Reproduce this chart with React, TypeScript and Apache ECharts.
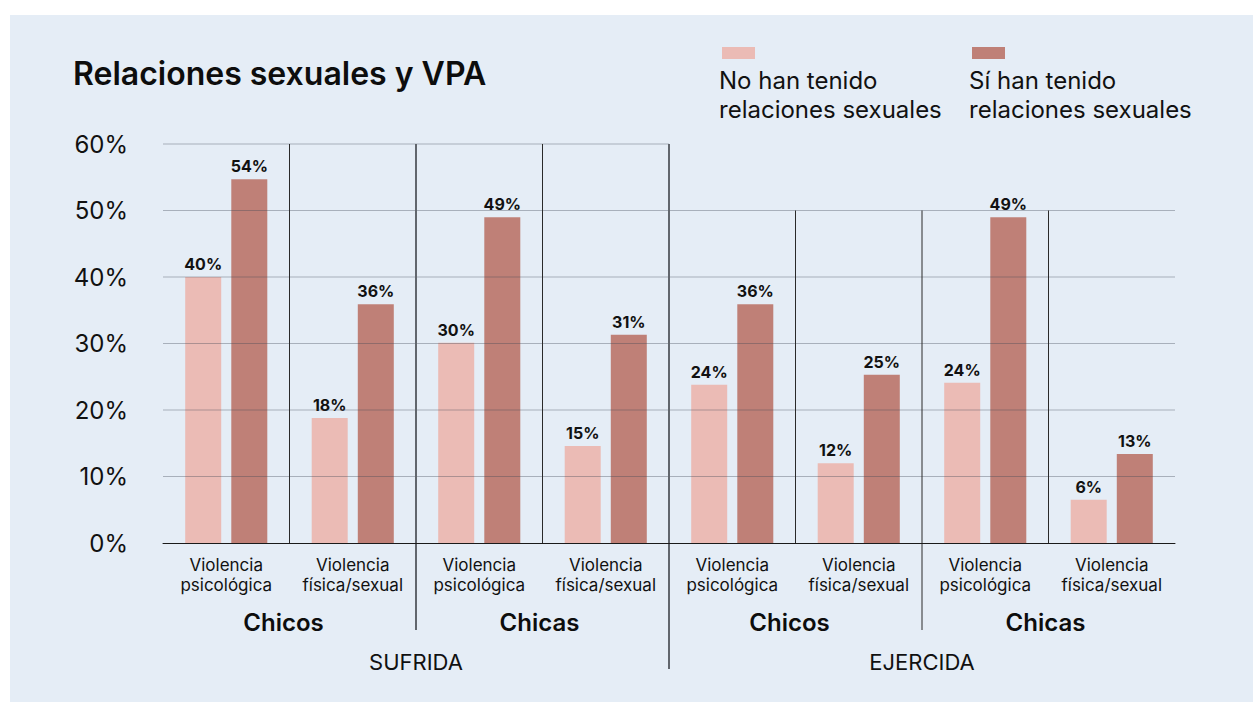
import React, { useEffect, useRef } from "react";
import * as echarts from "echarts";

// ---- data ----
const categories = [
  "Violencia\npsicológica",
  "Violencia\nfísica/sexual",
  "Violencia\npsicológica",
  "Violencia\nfísica/sexual",
  "Violencia\npsicológica",
  "Violencia\nfísica/sexual",
  "Violencia\npsicológica",
  "Violencia\nfísica/sexual",
];
const sexGroups = ["Chicos", "Chicas", "Chicos", "Chicas"];
const violenceTypes = ["SUFRIDA", "EJERCIDA"];
const seriesNames = [
  "No han tenido\nrelaciones sexuales",
  "Sí han tenido\nrelaciones sexuales",
];
// bar heights
const noValues = [40.0, 18.8, 30.1, 14.6, 23.8, 12.0, 24.1, 6.5];
const siValues = [54.7, 35.9, 49.0, 31.3, 35.9, 25.3, 49.0, 13.4];
// printed labels
const noLabels = [40, 18, 30, 15, 24, 12, 24, 6];
const siLabels = [54, 36, 49, 31, 36, 25, 49, 13];
const yTicks = [0, 10, 20, 30, 40, 50, 60];

const FONT = "Inter, 'Noto Sans', sans-serif";
const LIGHT = "#ebbbb5";
const DARK = "#bf8077";
const W = 1253;
const H = 702;
const GRID = { left: 163, right: 78, top: 144, bottom: 159 };

export default function App() {
  const ref = useRef<HTMLDivElement>(null);

  useEffect(() => {
    if (!ref.current) return;
    const chart = echarts.init(ref.current, null, { renderer: "svg" });

    const n = categories.length;
    const half = n / 2;
    const yMax = yTicks[yTicks.length - 1];
    const yStep = yTicks[1] - yTicks[0];

    // horizontal gridlines: [x0, x1, y]
    const gridLines = yTicks
      .filter((v) => v > 0)
      .map((v) => [0, v === yMax ? half : n, v]);

    // vertical dividers: [x, topValue, kind]  kind 0=sub, 1=sex group, 2=violence type
    const dividers: number[][] = [];
    for (let i = 1; i < n; i++) {
      const top = i <= half ? yMax : yMax - yStep;
      const kind = i === half ? 2 : i % 2 === 0 ? 1 : 0;
      dividers.push([i, top, kind]);
    }

    const plotW = W - GRID.left - GRID.right;
    const catW = plotW / n;

    const graphics: any[] = [
      {
        type: "text",
        left: 73,
        top: 57,
        style: {
          text: "Relaciones sexuales y VPA",
          font: `600 32px ${FONT}`,
          fill: "#0d0d0d",
        },
      },
      { type: "rect", shape: { x: 722, y: 47, width: 33, height: 12 }, style: { fill: LIGHT } },
      { type: "rect", shape: { x: 972, y: 47, width: 33, height: 12 }, style: { fill: DARK } },
      {
        type: "text",
        x: 719,
        y: 66,
        style: { text: seriesNames[0], font: `400 24px ${FONT}`, lineHeight: 29, fill: "#111" },
      },
      {
        type: "text",
        x: 969,
        y: 66,
        style: { text: seriesNames[1], font: `400 24px ${FONT}`, lineHeight: 29, fill: "#111" },
      },
    ];
    sexGroups.forEach((g, k) => {
      graphics.push({
        type: "text",
        x: GRID.left + catW * (2 * k + 1) - (k % 2 === 0 ? 6 : 3),
        y: 622,
        style: {
          text: g,
          font: `600 24px ${FONT}`,
          fill: "#0d0d0d",
          align: "center",
          verticalAlign: "middle",
        },
      });
    });
    violenceTypes.forEach((t, k) => {
      graphics.push({
        type: "text",
        x: GRID.left + catW * (half * k + half / 2),
        y: 662,
        style: {
          text: t,
          font: `400 22px ${FONT}`,
          fill: "#111",
          align: "center",
          verticalAlign: "middle",
        },
      });
    });

    const labelStyle = {
      show: true,
      position: "top",
      distance: 5,
      fontFamily: FONT,
      fontSize: 16,
      fontWeight: 700,
      color: "#111",
    };

    const option: any = {
      animation: false,
      backgroundColor: "transparent",
      grid: { ...GRID, containLabel: false },
      xAxis: [
        {
          type: "category",
          data: categories,
          axisLine: { show: true, lineStyle: { color: "#1a1a1a", width: 1 } },
          axisTick: { show: false },
          axisLabel: {
            interval: 0,
            margin: 12,
            fontFamily: FONT,
            fontSize: 17,
            lineHeight: 20,
            color: "#111",
          },
          z: 6,
        },
        { type: "value", min: 0, max: n, show: false },
      ],
      yAxis: {
        type: "value",
        min: 0,
        max: yMax,
        interval: yStep,
        axisLine: { show: false },
        axisTick: { show: false },
        splitLine: { show: false },
        axisLabel: {
          formatter: "{value}%",
          fontFamily: FONT,
          fontSize: 24,
          color: "#111",
          margin: 35,
        },
      },
      series: [
        {
          name: seriesNames[0],
          type: "bar",
          data: noValues,
          barWidth: 36,
          barGap: "28%",
          itemStyle: { color: LIGHT },
          label: { ...labelStyle, formatter: (p: any) => `${noLabels[p.dataIndex]}%` },
        },
        {
          name: seriesNames[1],
          type: "bar",
          data: siValues,
          barWidth: 36,
          itemStyle: { color: DARK },
          label: { ...labelStyle, formatter: (p: any) => `${siLabels[p.dataIndex]}%` },
        },
        {
          type: "custom",
          xAxisIndex: 1,
          yAxisIndex: 0,
          silent: true,
          z: 4,
          clip: false,
          data: gridLines,
          renderItem: (params: any, api: any) => {
            const p0 = api.coord([api.value(0), api.value(2)]);
            const p1 = api.coord([api.value(1), api.value(2)]);
            return {
              type: "line",
              shape: { x1: p0[0], y1: p0[1], x2: p1[0], y2: p1[1] },
              style: { stroke: "rgba(60,70,82,0.36)", lineWidth: 1 },
            };
          },
        },
        {
          type: "custom",
          xAxisIndex: 1,
          yAxisIndex: 0,
          silent: true,
          z: 5,
          clip: false,
          data: dividers,
          renderItem: (params: any, api: any) => {
            const x = api.value(0);
            const kind = api.value(2);
            const pTop = api.coord([x, api.value(1)]);
            const pBase = api.coord([x, 0]);
            const ext = kind === 2 ? 126 : kind === 1 ? 87 : 0;
            const strong = kind === 2 || (kind === 1 && x < half);
            return {
              type: "line",
              shape: { x1: pTop[0], y1: pTop[1], x2: pTop[0], y2: pBase[1] + ext },
              style: {
                stroke: strong ? "#61666d" : "#2a2a2a",
                lineWidth: strong ? 2 : 1,
              },
            };
          },
        },
      ],
      graphic: graphics,
    };

    chart.setOption(option);
    return () => chart.dispose();
  }, []);

  return (
    <div style={{ position: "absolute", left: 0, top: 0, width: W, height: H, background: "#fff" }}>
      <div
        style={{
          position: "absolute",
          left: 10,
          top: 15,
          width: W - 10,
          height: H - 15,
          background: "#e5edf6",
        }}
      />
      <div ref={ref} style={{ position: "absolute", left: 0, top: 0, width: W, height: H }} />
    </div>
  );
}
